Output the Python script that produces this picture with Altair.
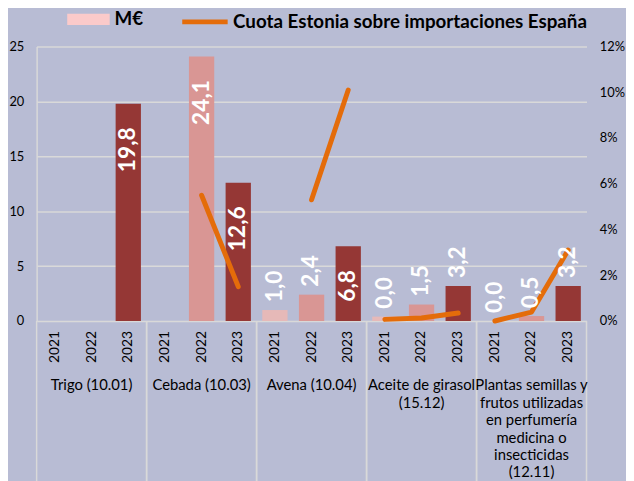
import altair as alt
import pandas as pd

# ---------------- data ----------------
categories = [
    "Trigo (10.01)",
    "Cebada (10.03)",
    "Avena (10.04)",
    "Aceite de girasol (15.12)",
    "Plantas semillas y frutos utilizadas en perfumería medicina o insecticidas (12.11)",
]
category_text = [
    "Trigo (10.01)",
    "Cebada (10.03)",
    "Avena (10.04)",
    "Aceite de girasol\n(15.12)",
    "Plantas semillas y\nfrutos utilizadas\nen perfumería\nmedicina o\ninsecticidas\n(12.11)",
]
years = ["2021", "2022", "2023"]

# M€ per category and year
meur = [
    [None, None, 19.8],
    [None, 24.1, 12.6],
    [1.0, 2.4, 6.8],
    [0.4, 1.5, 3.2],
    [0.0, 0.45, 3.2],
]
meur_text = [
    ["", "", "19,8"],
    ["", "24,1", "12,6"],
    ["1,0", "2,4", "6,8"],
    ["0,0", "1,5", "3,2"],
    ["0,0", "0,5", "3,2"],
]
# Cuota Estonia sobre importaciones España (fraction)
cuota = [
    [None, None, None],
    [None, 0.055, 0.015],
    [None, 0.053, 0.101],
    [0.0007, 0.0013, 0.0035],
    [0.0, 0.0039, 0.031],
]

SERIE_BAR = "M€"
SERIE_LINE = "Cuota Estonia sobre importaciones España"

rows = []
for c, cat in enumerate(categories):
    for j, yr in enumerate(years):
        rows.append({
            "cat": cat, "year": yr, "val": meur[c][j], "lab": meur_text[c][j],
            "share": cuota[c][j], "serie": SERIE_BAR, "serie2": SERIE_LINE,
        })
df = pd.DataFrame(rows)
cat_df = pd.DataFrame({"cat": categories, "txt": category_text})

# ---------------- style ----------------
W, H = 557, 278
BG = "#b8bcd4"
GRID = "#d9d9d9"
BAR_COLORS = ["#e6b9b8", "#d99694", "#953735"]
ORANGE = "#e46c0a"
SWATCH = "#fbcaca"
FONT = "Lato"


def X(**kw):
    return alt.X("cat:N", sort=categories, axis=None,
                 scale=alt.Scale(paddingInner=0, paddingOuter=0), **kw)


XO = alt.XOffset("year:N", sort=years,
                 scale=alt.Scale(domain=years, paddingInner=0.31, paddingOuter=0.155))

sep0 = alt.Chart(cat_df).mark_rule(color=GRID, strokeWidth=1.5).encode(
    x=X(bandPosition=0), y=alt.value(H), y2=alt.value(H + 220))
sep1 = alt.Chart(cat_df).mark_rule(color=GRID, strokeWidth=1.5).encode(
    x=X(bandPosition=1), y=alt.value(H), y2=alt.value(H + 220))

bars = alt.Chart(df).mark_bar().encode(
    x=X(), xOffset=XO,
    y=alt.Y("val:Q", scale=alt.Scale(domain=[0, 25]),
            axis=alt.Axis(values=[0, 5, 10, 15, 20, 25], grid=True, gridColor=GRID,
                          gridWidth=1.5, ticks=False, domain=True, domainColor=GRID,
                          domainWidth=1.5, labelPadding=13, labelFontSize=13,
                          labelFont=FONT, labelColor="black", title=None)),
    color=alt.Color("year:N", scale=alt.Scale(domain=years, range=BAR_COLORS), legend=None),
)

dummy = alt.Chart(df).mark_square(opacity=0).encode(
    x=X(), y=alt.value(0),
    fill=alt.Fill("serie:N", scale=alt.Scale(domain=[SERIE_BAR], range=[SWATCH]),
                  legend=alt.Legend(orient="none", legendX=31, legendY=-49, title=None,
                                    symbolType="M-1,-0.267L1,-0.267L1,0.267L-1,0.267Z",
                                    symbolSize=1849, symbolStrokeWidth=0, symbolOpacity=1,
                                    labelFont=FONT, labelFontSize=19, labelFontWeight="bold",
                                    labelColor="black", labelOffset=5, padding=0,
                                    labelLimit=600)),
)

yr_labels = alt.Chart(df).mark_text(
    angle=270, align="right", baseline="middle", font=FONT, fontSize=14, color="black"
).encode(x=X(), xOffset=XO, y=alt.value(H + 10), text="year:N")

cat_labels = alt.Chart(cat_df).mark_text(
    align="center", baseline="top", lineBreak="\n", lineHeight=17.7,
    font=FONT, fontSize=15, color="black"
).encode(x=X(), y=alt.value(H + 58), text="txt:N")

line = alt.Chart(df).mark_line(strokeWidth=5, strokeCap="round", strokeJoin="round").encode(
    x=X(), xOffset=XO,
    y=alt.Y("share:Q", scale=alt.Scale(domain=[0, 0.12]),
            axis=alt.Axis(orient="right", values=[0, 0.02, 0.04, 0.06, 0.08, 0.10, 0.12],
                          format=".0%", grid=False, ticks=False, domain=False,
                          labelPadding=13, labelFontSize=13, labelFont=FONT,
                          labelColor="black", title=None)),
    stroke=alt.Stroke("serie2:N", scale=alt.Scale(domain=[SERIE_LINE], range=[ORANGE]),
                      legend=alt.Legend(orient="none", legendX=145, legendY=-50.5, title=None,
                                        symbolType="stroke", symbolSize=2116,
                                        symbolStrokeWidth=5, labelFont=FONT, labelFontSize=19,
                                        labelFontWeight="bold", labelColor="black",
                                        labelOffset=3, padding=0, labelLimit=600)),
    detail="cat:N",
)

ytxt = alt.Y("val:Q", scale=alt.Scale(domain=[0, 25]), axis=None)
txt_in = alt.Chart(df).transform_filter("isValid(datum.val) && datum.val > 5").mark_text(
    angle=270, align="right", baseline="middle", dx=-24, font=FONT, fontSize=23,
    fontWeight="bold", color="white"
).encode(x=X(), xOffset=XO, y=ytxt, text="lab:N")
txt_out = alt.Chart(df).transform_filter("isValid(datum.val) && datum.val <= 5").mark_text(
    angle=270, align="left", baseline="middle", dx=8, font=FONT, fontSize=23,
    fontWeight="bold", color="white"
).encode(x=X(), xOffset=XO, y=ytxt, text="lab:N")

inner1 = alt.layer(sep0, sep1, bars, dummy, yr_labels, cat_labels)
inner2 = alt.layer(txt_in, txt_out)

chart = alt.layer(inner1, line, inner2).resolve_scale(y="independent").properties(
    width=W, height=H,
    autosize=alt.AutoSizeParams(type="none"),
    padding={"left": 29, "top": 36, "right": 40, "bottom": 159},
    background=BG,
).configure_view(stroke=None)

chart.save("out.html", embed_options={"renderer": "svg", "actions": False})
